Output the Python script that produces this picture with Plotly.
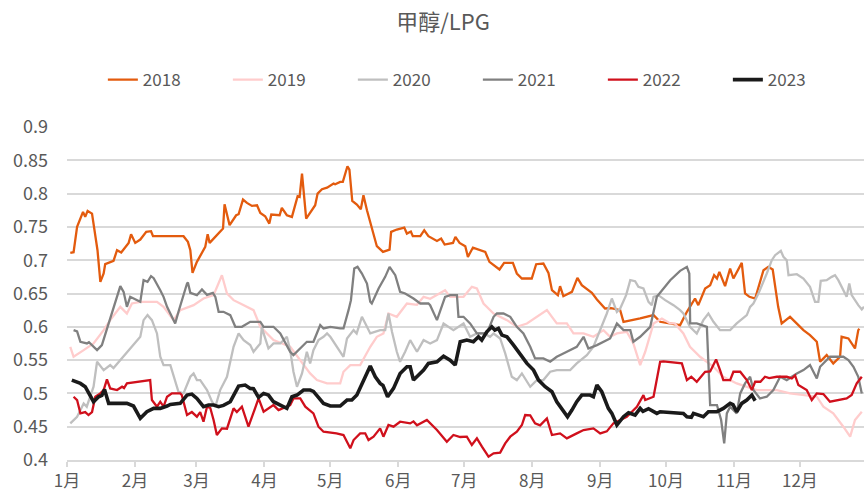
import pandas as pd
import plotly.graph_objects as go

# ---- data: x = day of year offset from Jan 1, y = ratio ----
months = ["1月", "2月", "3月", "4月", "5月", "6月", "7月", "8月", "9月", "10月", "11月", "12月"]
month_starts = ["2023-01-01", "2023-02-01", "2023-03-01", "2023-04-01", "2023-05-01", "2023-06-01",
                "2023-07-01", "2023-08-01", "2023-09-01", "2023-10-01", "2023-11-01", "2023-12-01"]
y_ticks = [0.4, 0.45, 0.5, 0.55, 0.6, 0.65, 0.7, 0.75, 0.8, 0.85, 0.9]

d2018 = [1.5, 3.0, 4.6, 7.3, 8.3, 9.4, 11.4, 13.9, 15.2, 16.7, 17.4, 21.2, 22.8, 24.7, 28.1, 29.2, 31.1, 33.4, 36.1, 38.3,
         39.2, 53.1, 55.1, 56.2, 57.2, 59.2, 63.0, 64.1, 65.0, 67.6, 71.1, 71.8, 74.1, 77.1, 78.2, 80.2, 82.0, 84.3, 86.6,
         88.1, 90.3, 92.2, 93.1, 96.9, 97.9, 100.2, 102.5, 105.1, 106.0, 107.1, 109.0, 113.1, 114.2, 116.2, 118.5, 121.5,
         122.2, 124.5, 125.7, 127.8, 128.7, 130.0, 132.1, 133.9, 135.1, 136.7, 141.2, 144.0, 147.0, 147.7, 150.3, 153.7,
         154.9, 156.7, 157.6, 161.0, 162.8, 164.7, 168.6, 170.5, 172.1, 175.9, 177.0, 178.9, 181.5, 182.7, 185.0, 190.6,
         192.5, 197.1, 199.2, 203.2, 205.0, 207.3, 211.8, 213.8, 217.1, 219.4, 221.0, 223.7, 224.7, 226.2, 230.1, 232.6,
         234.6, 239.2, 241.5, 245.2, 248.0, 252.1, 253.6, 261.2, 267.3, 270.3, 279.4, 282.5, 283.9, 286.2, 287.7, 290.8,
         293.1, 294.9, 296.2, 297.3, 299.9, 302.2, 303.7, 307.5, 309.0, 311.0, 313.6, 317.4, 319.6, 321.6, 324.1, 325.7,
         329.5, 335.6, 338.6, 341.7, 343.2, 346.2, 349.2, 352.3, 353.0, 356.1, 359.1, 360.6, 361.1]
v2018 = [0.711, 0.712, 0.75, 0.7725, 0.765, 0.774, 0.77, 0.715, 0.6675, 0.68, 0.694, 0.699, 0.715, 0.7115, 0.726, 0.739,
         0.726, 0.731, 0.7425, 0.7435, 0.736, 0.736, 0.7275, 0.715, 0.681, 0.6975, 0.72, 0.739, 0.726, 0.735, 0.7475, 0.784,
         0.7525, 0.7675, 0.769, 0.791, 0.786, 0.7815, 0.7825, 0.771, 0.766, 0.755, 0.7685, 0.7675, 0.7785, 0.7675, 0.765,
         0.796, 0.795, 0.83, 0.7625, 0.7825, 0.80, 0.8065, 0.809, 0.815, 0.814, 0.8175, 0.8175, 0.841, 0.836, 0.789,
         0.7835, 0.7765, 0.7975, 0.775, 0.721, 0.7125, 0.716, 0.7425, 0.746, 0.749, 0.74, 0.743, 0.736, 0.736, 0.745,
         0.736, 0.729, 0.7325, 0.7235, 0.726, 0.735, 0.726, 0.721, 0.705, 0.719, 0.7125, 0.6975, 0.686, 0.696, 0.696,
         0.68, 0.6725, 0.6725, 0.694, 0.695, 0.681, 0.655, 0.6475, 0.661, 0.646, 0.6525, 0.6735, 0.6625, 0.651, 0.641,
         0.6275, 0.628, 0.625, 0.6075, 0.6125, 0.6175, 0.6075, 0.6025, 0.6225, 0.63, 0.6425, 0.6325, 0.6575, 0.6625,
         0.6775, 0.6725, 0.6825, 0.661, 0.6875, 0.6725, 0.696, 0.65, 0.645, 0.6425, 0.685, 0.69, 0.686, 0.63, 0.605,
         0.615, 0.595, 0.5875, 0.5775, 0.5475, 0.5575, 0.545, 0.555, 0.585, 0.5825, 0.5675, 0.595, 0.597]

d2019 = [1.5, 3.0, 7.6, 12.1, 16.7, 19.7, 24.3, 27.3, 29.6, 33.4, 41.0, 44.0, 48.6, 51.6, 57.7, 62.2, 66.8, 69.8, 70.6,
         72.9, 75.9, 79.0, 85.0, 88.1, 91.1, 94.1, 101.7, 106.3, 110.8, 113.9, 118.5, 124.5, 126.0, 129.1, 133.6, 138.2,
         141.2, 144.2, 146.5, 150.3, 154.9, 159.5, 162.5, 165.5, 170.1, 172.3, 174.6, 180.7, 184.5, 186.8, 189.8, 194.4,
         200.5, 205.0, 209.6, 214.1, 218.7, 223.2, 227.8, 230.8, 235.4, 239.9, 244.5, 247.5, 250.6, 255.1, 258.1, 261.2,
         263.5, 267.3, 271.1, 274.9, 277.0, 280.9, 283.9, 288.5, 294.6, 299.1, 305.2, 314.3, 323.5, 329.5, 335.6, 341.7,
         344.7, 349.2, 353.8, 356.9, 359.1, 362.2]
v2019 = [0.57, 0.555, 0.565, 0.575, 0.595, 0.61, 0.63, 0.62, 0.635, 0.6375, 0.6375, 0.63, 0.61, 0.625, 0.6325, 0.6425,
         0.6475, 0.67, 0.6775, 0.65, 0.64, 0.635, 0.625, 0.60, 0.59, 0.58, 0.57, 0.55, 0.53, 0.52, 0.515, 0.515, 0.5325,
         0.5425, 0.5425, 0.57, 0.585, 0.59, 0.62, 0.615, 0.635, 0.633, 0.645, 0.642, 0.65, 0.655, 0.645, 0.645, 0.66,
         0.6575, 0.635, 0.62, 0.61, 0.60, 0.605, 0.615, 0.625, 0.605, 0.605, 0.59, 0.59, 0.585, 0.595, 0.585, 0.59,
         0.5925, 0.575, 0.5425, 0.5625, 0.605, 0.6125, 0.605, 0.605, 0.59, 0.57, 0.555, 0.54, 0.525, 0.515, 0.505, 0.505,
         0.50, 0.4975, 0.495, 0.48, 0.47, 0.45, 0.435, 0.46, 0.4725]

d2020 = [1.5, 4.6, 7.6, 9.0, 12.1, 13.7, 16.7, 19.7, 21.2, 24.3, 33.4, 34.9, 36.7, 38.7, 41.0, 42.5, 44.0, 47.1, 50.1,
         50.8, 53.1, 56.2, 57.7, 59.2, 60.7, 63.8, 66.1, 67.6, 69.8, 72.9, 75.9, 78.2, 80.5, 83.5, 85.0, 88.1, 88.8, 89.6,
         91.8, 94.1, 97.2, 100.2, 101.7, 103.2, 104.8, 107.1, 109.3, 110.8, 112.3, 114.6, 116.9, 118.5, 120.0, 123.0,
         126.0, 127.6, 130.6, 132.0, 134.4, 136.7, 138.2, 142.7, 145.0, 146.5, 148.1, 150.3, 151.8, 154.1, 156.4, 159.5,
         162.5, 165.5, 168.6, 171.6, 176.1, 180.7, 183.7, 186.8, 190.0, 192.8, 194.4, 197.4, 199.7, 202.7, 205.0, 207.3,
         211.1, 214.1, 217.1, 220.2, 223.2, 226.2, 229.3, 232.3, 236.9, 239.9, 243.0, 246.0, 248.3, 250.6, 252.1, 254.8,
         256.7, 258.9, 260.4, 262.7, 265.0, 266.5, 267.3, 269.5, 272.6, 276.4, 279.4, 280.9, 283.9, 287.0, 290.0, 292.3,
         294.6, 297.6, 302.2, 305.2, 309.8, 311.3, 312.8, 314.3, 315.1, 318.9, 321.2, 322.7, 325.3, 326.5, 328.0, 328.8,
         332.6, 335.6, 338.6, 340.9, 342.4, 343.5, 346.2, 348.5, 350.0, 351.5, 355.3, 356.5, 357.6, 360.6, 362.2, 363.2]
v2020 = [0.455, 0.465, 0.485, 0.48, 0.51, 0.5475, 0.535, 0.5425, 0.538, 0.55, 0.585, 0.61, 0.6175, 0.61, 0.59, 0.555,
         0.5425, 0.5425, 0.51, 0.5025, 0.50, 0.525, 0.53, 0.52, 0.52, 0.505, 0.4875, 0.48, 0.505, 0.525, 0.57, 0.59, 0.58,
         0.5725, 0.5625, 0.575, 0.60, 0.59, 0.5675, 0.575, 0.575, 0.585, 0.565, 0.5325, 0.51, 0.53, 0.5625, 0.545, 0.565,
         0.58, 0.585, 0.59, 0.585, 0.57, 0.555, 0.5825, 0.595, 0.59, 0.615, 0.60, 0.59, 0.595, 0.595, 0.62, 0.5925,
         0.5625, 0.5475, 0.5625, 0.58, 0.5625, 0.58, 0.575, 0.58, 0.605, 0.595, 0.605, 0.585, 0.59, 0.59, 0.585, 0.59,
         0.5825, 0.56, 0.525, 0.52, 0.53, 0.51, 0.52, 0.52, 0.5325, 0.535, 0.535, 0.535, 0.545, 0.5575, 0.57, 0.595,
         0.62, 0.6425, 0.6225, 0.6275, 0.6475, 0.67, 0.6685, 0.66, 0.6575, 0.6375, 0.6325, 0.645, 0.6475, 0.64, 0.6325,
         0.625, 0.62, 0.60, 0.59, 0.61, 0.62, 0.6075, 0.595, 0.595, 0.605, 0.6175, 0.63, 0.635, 0.645, 0.65, 0.68, 0.70,
         0.7075, 0.714, 0.705, 0.70, 0.6775, 0.679, 0.6725, 0.66, 0.6375, 0.6375, 0.669, 0.67, 0.675, 0.6775, 0.67,
         0.645, 0.665, 0.6475, 0.6325, 0.626, 0.63]

d2021 = [3.0, 4.6, 6.1, 9.1, 10.0, 13.7, 15.9, 19.0, 22.0, 24.3, 25.8, 27.3, 28.8, 33.4, 34.9, 36.7, 38.3, 39.5, 42.5,
         44.0, 45.6, 49.3, 50.8, 53.1, 54.7, 55.1, 56.2, 59.2, 61.5, 63.8, 66.5, 67.6, 69.1, 71.3, 74.4, 76.7, 79.7, 83.5,
         88.1, 89.6, 94.1, 97.2, 101.7, 103.2, 106.3, 109.3, 112.3, 115.4, 116.9, 120.0, 124.5, 126.0, 128.3, 129.4,
         130.9, 132.4, 134.4, 136.7, 138.2, 138.9, 142.0, 145.0, 147.0, 149.6, 151.8, 154.1, 157.9, 161.0, 164.7, 165.5,
         168.6, 172.3, 174.6, 177.7, 178.4, 180.7, 183.7, 186.8, 191.3, 194.4, 195.9, 198.9, 202.0, 205.0, 208.0, 211.1,
         213.3, 217.1, 220.2, 223.2, 226.2, 229.3, 232.3, 235.4, 237.6, 241.5, 244.5, 247.5, 250.6, 253.6, 256.7, 258.1,
         261.2, 265.8, 268.8, 274.9, 279.4, 282.5, 283.6, 284.0, 287.0, 291.6, 293.1, 296.2, 298.1, 299.5, 300.7, 302.2,
         305.2, 306.8, 309.0, 311.3, 312.8, 315.8, 318.9, 321.9, 325.0, 328.0, 332.6, 335.6, 338.6, 341.7, 343.2, 344.7,
         347.7, 353.8, 356.1, 358.4, 360.6, 362.2]
v2021 = [0.595, 0.593, 0.5775, 0.575, 0.577, 0.565, 0.5725, 0.605, 0.64, 0.661, 0.6525, 0.63, 0.645, 0.6375, 0.67,
         0.6675, 0.676, 0.673, 0.655, 0.645, 0.63, 0.605, 0.6225, 0.65, 0.665, 0.6665, 0.651, 0.6475, 0.656, 0.648,
         0.651, 0.645, 0.6225, 0.6225, 0.6175, 0.60, 0.60, 0.6075, 0.6075, 0.60, 0.60, 0.59, 0.5625, 0.5575, 0.5675,
         0.5775, 0.5775, 0.6025, 0.5975, 0.60, 0.5975, 0.5975, 0.625, 0.64, 0.6875, 0.69, 0.68, 0.665, 0.6375, 0.635,
         0.6575, 0.675, 0.69, 0.6775, 0.6525, 0.65, 0.6425, 0.635, 0.635, 0.6325, 0.61, 0.645, 0.6475, 0.6475, 0.615,
         0.615, 0.605, 0.59, 0.59, 0.615, 0.62, 0.62, 0.615, 0.60, 0.59, 0.57, 0.5525, 0.5525, 0.5475, 0.555, 0.56,
         0.565, 0.57, 0.585, 0.5675, 0.5725, 0.5775, 0.5825, 0.605, 0.595, 0.595, 0.5775, 0.585, 0.60, 0.645, 0.67,
         0.684, 0.69, 0.68, 0.605, 0.605, 0.60, 0.4825, 0.4825, 0.46, 0.425, 0.47, 0.48, 0.47, 0.50, 0.515, 0.525,
         0.505, 0.4925, 0.495, 0.505, 0.525, 0.52, 0.53, 0.535, 0.5425, 0.5225, 0.54, 0.545, 0.555, 0.555, 0.55, 0.54,
         0.525, 0.50]

d2022 = [3.0, 4.6, 6.1, 8.3, 9.8, 11.4, 12.9, 15.2, 16.7, 18.2, 19.7, 22.8, 25.1, 26.0, 27.3, 31.9, 37.9, 38.7, 41.0,
         42.5, 44.0, 45.6, 47.8, 51.6, 52.3, 54.7, 56.9, 59.2, 60.7, 62.2, 63.8, 65.3, 66.8, 68.3, 70.6, 72.9, 74.4,
         75.9, 77.4, 79.7, 82.7, 85.0, 87.3, 89.6, 94.1, 96.4, 98.6, 101.7, 103.2, 106.3, 108.6, 112.3, 114.6, 116.9,
         122.8, 126.0, 129.1, 130.6, 133.6, 135.9, 137.4, 139.7, 142.7, 144.2, 146.5, 148.8, 151.8, 156.4, 157.9, 159.5,
         164.0, 168.6, 173.1, 176.1, 179.2, 182.2, 184.5, 186.8, 189.1, 192.1, 194.4, 197.4, 199.7, 202.0, 205.0, 207.3,
         208.8, 211.1, 213.3, 215.6, 218.7, 221.0, 224.7, 227.8, 232.3, 235.4, 239.9, 243.0, 246.0, 249.0, 255.1, 259.7,
         262.7, 263.5, 267.3, 270.3, 271.8, 280.2, 282.5, 284.5, 287.0, 290.8, 293.1, 295.8, 297.6, 299.1, 302.2, 303.7,
         306.8, 309.8, 312.1, 313.6, 316.0, 318.1, 320.0, 323.5, 328.0, 330.3, 331.8, 333.3, 337.1, 339.4, 341.7, 344.7,
         347.7, 352.3, 355.3, 357.6, 359.9, 362.2]
v2022 = [0.495, 0.49, 0.47, 0.472, 0.4675, 0.472, 0.495, 0.50, 0.505, 0.521, 0.5075, 0.505, 0.51, 0.508, 0.515, 0.5175,
         0.52, 0.49, 0.48, 0.4875, 0.48, 0.495, 0.50, 0.50, 0.4975, 0.4675, 0.472, 0.465, 0.472, 0.4575, 0.48, 0.478,
         0.46, 0.4375, 0.4475, 0.447, 0.4625, 0.4775, 0.472, 0.48, 0.45, 0.4725, 0.4925, 0.4725, 0.4825, 0.475, 0.478,
         0.4825, 0.4925, 0.4925, 0.48, 0.47, 0.45, 0.4425, 0.44, 0.4375, 0.4175, 0.43, 0.44, 0.44, 0.43, 0.435, 0.4475,
         0.435, 0.4525, 0.45, 0.4575, 0.455, 0.458, 0.452, 0.46, 0.445, 0.4275, 0.4375, 0.4345, 0.435, 0.4225, 0.4325,
         0.42, 0.405, 0.41, 0.411, 0.425, 0.435, 0.4425, 0.4525, 0.4675, 0.467, 0.455, 0.452, 0.4625, 0.4375, 0.44,
         0.4325, 0.44, 0.445, 0.4475, 0.44, 0.443, 0.455, 0.465, 0.48, 0.4975, 0.49, 0.495, 0.5475, 0.548, 0.545, 0.52,
         0.525, 0.5175, 0.5325, 0.533, 0.551, 0.535, 0.52, 0.52, 0.5325, 0.5325, 0.52, 0.505, 0.5175, 0.5175, 0.525,
         0.523, 0.525, 0.525, 0.5225, 0.527, 0.5125, 0.505, 0.49, 0.50, 0.499, 0.4875, 0.49, 0.4925, 0.4975, 0.515,
         0.525]

d2023 = [2.2, 6.1, 8.3, 10.6, 12.1, 14.4, 15.9, 17.1, 19.0, 27.3, 30.3, 33.4, 36.4, 39.5, 42.5, 45.6, 47.1, 51.6, 54.7,
         56.9, 59.2, 62.2, 64.5, 66.8, 69.1, 71.3, 74.4, 78.2, 81.2, 83.5, 85.0, 87.3, 89.6, 91.8, 94.1, 97.2, 100.2,
         102.5, 104.8, 107.8, 110.8, 112.3, 116.9, 120.0, 124.5, 127.6, 129.8, 132.1, 135.1, 138.2, 140.5, 142.7, 144.0,
         146.1, 148.8, 151.8, 154.9, 156.4, 157.9, 159.5, 162.5, 164.7, 168.6, 171.6, 174.6, 176.9, 179.2, 182.2, 185.2,
         187.5, 189.0, 191.3, 193.6, 195.0, 196.6, 198.2, 200.5, 203.5, 206.5, 209.6, 212.6, 214.9, 217.9, 221.0, 223.2,
         226.2, 228.1, 230.1, 232.3, 234.6, 238.4, 239.9, 241.5, 243.7, 246.7, 248.3, 250.6, 253.6, 255.9, 258.9, 261.2,
         262.5, 265.0, 268.8, 270.3, 280.9, 282.5, 284.5, 285.5, 290.0, 292.3, 296.2, 299.1, 302.2, 303.5, 305.2, 307.5,
         309.8, 312.1, 313.6]
v2023 = [0.52, 0.515, 0.51, 0.4975, 0.4875, 0.495, 0.497, 0.506, 0.485, 0.485, 0.481, 0.4625, 0.4725, 0.4775, 0.4775,
         0.481, 0.4835, 0.485, 0.4975, 0.499, 0.4925, 0.48, 0.4825, 0.4825, 0.48, 0.482, 0.4875, 0.511, 0.5125, 0.5075,
         0.507, 0.494, 0.50, 0.4975, 0.4875, 0.4825, 0.4775, 0.495, 0.4975, 0.505, 0.505, 0.503, 0.485, 0.481, 0.481,
         0.49, 0.49, 0.4975, 0.52, 0.541, 0.525, 0.515, 0.512, 0.495, 0.5075, 0.53, 0.54, 0.54, 0.52, 0.525, 0.535,
         0.545, 0.5475, 0.556, 0.55, 0.5425, 0.5775, 0.58, 0.5775, 0.585, 0.58, 0.5925, 0.60, 0.595, 0.5975, 0.5875,
         0.585, 0.5725, 0.56, 0.545, 0.535, 0.52, 0.51, 0.5025, 0.4875, 0.4725, 0.465, 0.475, 0.4875, 0.4975, 0.4975,
         0.495, 0.5125, 0.5025, 0.4775, 0.47, 0.4525, 0.465, 0.471, 0.4675, 0.4775, 0.473, 0.477, 0.47, 0.4725, 0.47,
         0.465, 0.464, 0.47, 0.465, 0.4725, 0.4725, 0.4775, 0.485, 0.483, 0.4725, 0.485, 0.49, 0.4975, 0.489]

series = [
    ("2018", d2018, v2018, "#E35B0E", 2.3),
    ("2019", d2019, v2019, "#FFCCCC", 2.3),
    ("2020", d2020, v2020, "#BFBFBF", 2.3),
    ("2021", d2021, v2021, "#808080", 2.3),
    ("2022", d2022, v2022, "#D0101C", 2.3),
    ("2023", d2023, v2023, "#1A1A1A", 3.6),
]

base = pd.Timestamp("2023-01-01")
FONT = "Noto Sans CJK SC"
GREY = "#595959"

fig = go.Figure()
for name, days, vals, color, w in series:
    xs = base + pd.to_timedelta(days, unit="D")
    fig.add_trace(go.Scatter(x=xs, y=vals, mode="lines", name=name,
                             line=dict(color=color, width=w)))

fig.update_layout(
    width=864, height=498,
    margin=dict(l=67, r=0, t=127, b=38),
    paper_bgcolor="white", plot_bgcolor="white",
    font=dict(family=FONT, color=GREY, size=16),
    title=dict(text="甲醇/LPG", x=443 / 864, xanchor="center", xref="container",
               y=1 - 22 / 498, yanchor="middle", yref="container", pad=dict(t=0, b=0),
               font=dict(size=22, color=GREY, family=FONT)),
    legend=dict(orientation="h", x=0.045, xanchor="left", y=1.141, yanchor="middle",
                entrywidth=80, entrywidthmode="pixels", font=dict(size=17, color=GREY, family=FONT),
                bgcolor="rgba(0,0,0,0)"),
    showlegend=True,
)
fig.update_xaxes(
    type="date", automargin=False,
    range=["2023-01-01", "2023-12-30 05:00"],
    tickvals=month_starts, ticktext=months,
    showgrid=False, showline=True, linecolor="#D9D9D9", linewidth=1.5,
    ticks="outside", ticklen=5, tickcolor="#D9D9D9", tickwidth=1.5,
    tickfont=dict(size=17, color=GREY, family=FONT), zeroline=False,
)
fig.update_yaxes(
    automargin=False,
    range=[0.4, 0.9], tickvals=y_ticks, ticktext=[f"{t:g}" for t in y_ticks],
    showgrid=True, gridcolor="#D9D9D9", gridwidth=1.5, zeroline=False, showline=False,
    ticks="", ticklabelstandoff=18, tickfont=dict(size=18, color=GREY, family=FONT),
)

fig.write_html("out.html", config={"displayModeBar": False},
               post_script="document.body.style.margin='0';document.body.style.padding='0';")
